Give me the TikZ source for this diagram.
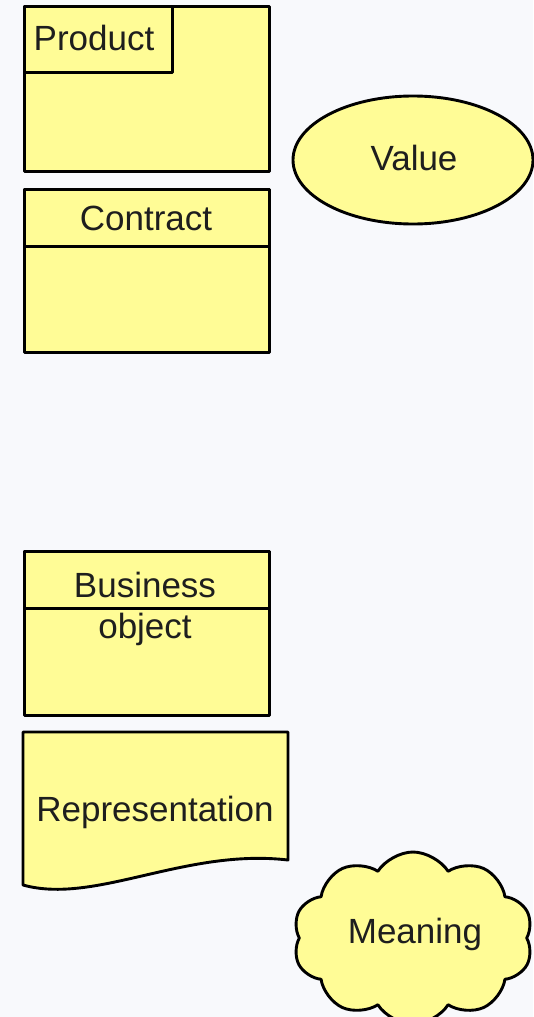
\documentclass[tikz,border=0pt]{standalone}
\usepackage{fontspec}
\setmainfont{Liberation Sans}
\usetikzlibrary{shapes.geometric,shapes.symbols}
\definecolor{bg}{RGB}{248,249,252}
\definecolor{fillY}{RGB}{255,252,150}
\definecolor{txt}{RGB}{30,30,30}
\begin{document}
\begin{tikzpicture}[x=1pt,y=-1pt,
  shp/.style={draw=black,line width=2.9pt,fill=fillY,inner sep=0pt,line join=round},
  lbl/.style={text=txt,font=\fontsize{35}{40}\selectfont,inner sep=0pt},
  box/.style={shp,rectangle,anchor=north west}]
\fill[bg] (0,0) rectangle (533,1017);
\useasboundingbox (0,0) rectangle (533,1017);
% Product
\node[box,minimum width=245,minimum height=165] (prod) at (23,5) {};
\node[box,minimum width=148,minimum height=66] (prodtab) at (23,5) {};
\node[lbl] (prodl) at (94,38) {Product};
% Value
\node[shp,ellipse,minimum width=240,minimum height=128] (val) at (413,160) {};
\node[lbl] (vall) at (414,158) {Value};
% Contract
\node[box,minimum width=245,minimum height=163] (con) at (23,188) {};
\node[box,minimum width=245,minimum height=57] (conh) at (23,188) {};
\node[lbl] (conl) at (146,218) {Contract};
% Business object
\node[box,minimum width=245,minimum height=164] (bo) at (23,550) {};
\node[box,minimum width=245,minimum height=57] (boh) at (23,550) {};
\node[lbl] (bol1) at (145,585) {Business};
\node[lbl] (bol2) at (145,629) {object};
% Representation
\filldraw[shp] (23,732) -- (288,732) -- (288,860)
  .. controls (185,848) and (95,905) .. (23,885) -- cycle;
\node[lbl] (repl) at (155,812) {Representation};
% Meaning
\node[shp,cloud,cloud puffs=10,cloud puff arc=115,aspect=1.5,minimum width=240,minimum height=172] (mean) at (413,938) {};
\node[lbl] (meanl) at (415,934) {Meaning};
\end{tikzpicture}
\end{document}
